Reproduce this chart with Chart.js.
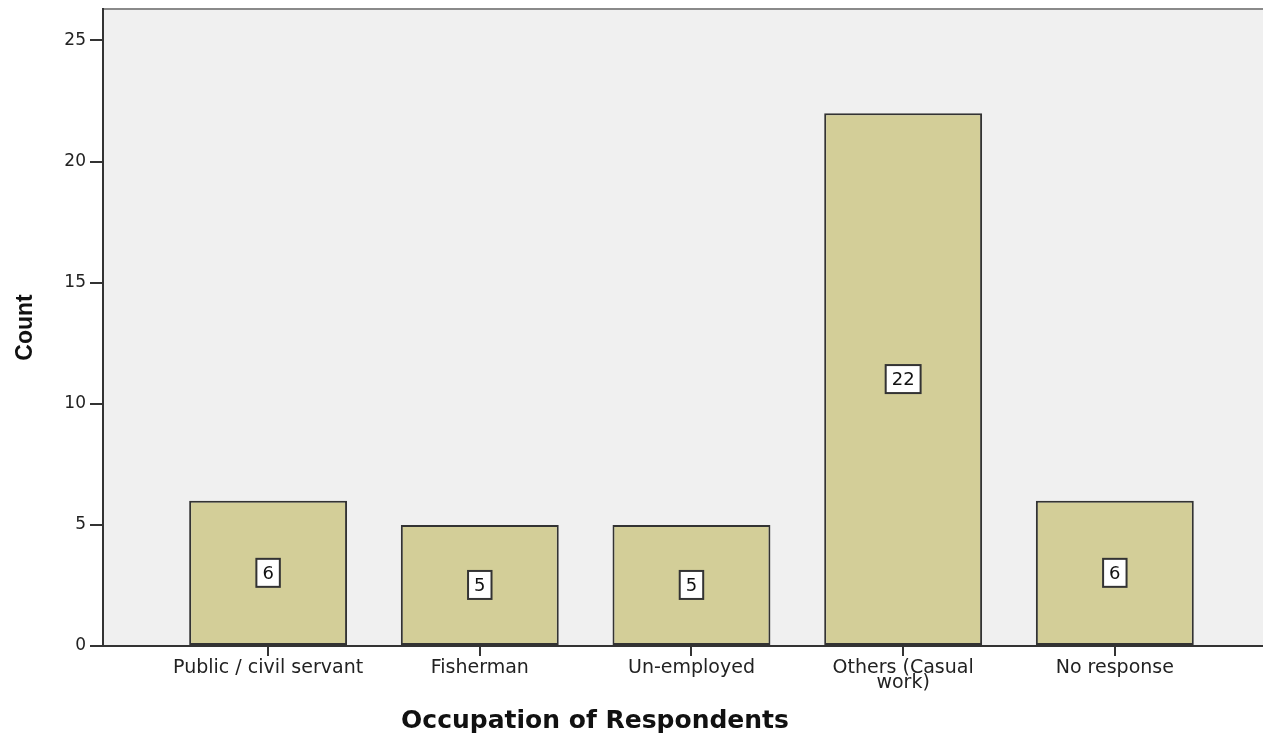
<!DOCTYPE html>
<html>
<head>
<meta charset="utf-8">
<script src="https://cdn.jsdelivr.net/npm/chart.js@4"></script>
<style>
  html, body { margin: 0; padding: 0; background: #fff; }
  #wrap { width: 1263px; height: 735px; position: relative; }
</style>
</head>
<body>
<div id="wrap"><canvas id="myChart"></canvas></div>
<script>
var categories = ["Public / civil servant", "Fisherman", "Un-employed", ["Others (Casual", "work)"], "No response"];
var counts = [6, 5, 5, 22, 6];
var yTicks = [0, 5, 10, 15, 20, 25];
var xTitle = "Occupation of Respondents";
var yTitle = "Count";

// grey plot background + top frame line
var plotFrame = {
  id: 'plotFrame',
  beforeDraw: function (chart) {
    var a = chart.chartArea, c = chart.ctx;
    c.save();
    c.fillStyle = '#f0f0f0';
    c.fillRect(a.left, a.top, a.right - a.left, a.bottom - a.top);
    c.strokeStyle = '#8a8a8a';
    c.lineWidth = 2;
    c.beginPath();
    c.moveTo(a.left, a.top);
    c.lineTo(a.right, a.top);
    c.stroke();
    c.restore();
  },
  afterDraw: function (chart) {
    var c = chart.ctx;
    c.save();
    c.font = 'bold 25px "DejaVu Sans"';
    c.fillStyle = '#111';
    c.textAlign = 'center';
    c.textBaseline = 'middle';
    c.fillText(xTitle, 595, 721);
    c.restore();
  }
};

// white count boxes in the middle of each bar
var countBoxes = {
  id: 'countBoxes',
  afterDatasetsDraw: function (chart) {
    var c = chart.ctx;
    c.save();
    c.font = '18px "DejaVu Sans"';
    c.textAlign = 'center';
    c.textBaseline = 'middle';
    chart.getDatasetMeta(0).data.forEach(function (bar, i) {
      var txt = String(counts[i]);
      var w = c.measureText(txt).width + 12, h = 28;
      var cy = (bar.y + bar.base) / 2;
      c.fillStyle = '#fff';
      c.fillRect(bar.x - w / 2, cy - h / 2, w, h);
      c.strokeStyle = '#333';
      c.lineWidth = 2;
      c.strokeRect(bar.x - w / 2, cy - h / 2, w, h);
      c.fillStyle = '#111';
      c.fillText(txt, bar.x, cy + 1);
    });
    c.restore();
  }
};

var ctx = document.getElementById("myChart");
var myChart = new Chart(ctx, {
  type: 'bar',
  data: {
    datasets: [{
      data: counts.map(function (v, i) { return { x: i + 1, y: v }; }),
      backgroundColor: '#d3ce98',
      borderColor: '#333',
      borderWidth: 2,
      borderSkipped: false,
      barPercentage: 0.746,
      categoryPercentage: 1
    }]
  },
  options: {
    responsive: true,
    maintainAspectRatio: false,
    animation: false,
    layout: { padding: { top: 9, right: 0, bottom: 0, left: 0 } },
    plugins: {
      legend: { display: false },
      tooltip: { enabled: false }
    },
    scales: {
      x: {
        type: 'linear',
        min: 0.22,
        max: 5.7,
        offset: false,
        afterBuildTicks: function (s) {
          s.ticks = categories.map(function (c, i) { return { value: i + 1 }; });
        },
        afterFit: function (s) { s.height = 89; },
        ticks: {
          autoSkip: false,
          maxRotation: 0,
          padding: 4,
          color: '#222',
          font: { family: '"DejaVu Sans"', size: 19, lineHeight: 0.8 },
          callback: function (v, i) { return categories[i]; }
        },
        grid: {
          offset: false,
          drawOnChartArea: false,
          drawTicks: true,
          tickLength: 10,
          tickColor: '#333',
          lineWidth: 2
        },
        border: { color: '#333', width: 2 }
      },
      y: {
        min: 0,
        max: 26.3,
        afterBuildTicks: function (s) {
          s.ticks = yTicks.map(function (v) { return { value: v }; });
        },
        afterFit: function (s) {
          s.width = 103;
          s.paddingTop = 0;
          s.paddingBottom = 0;
        },
        ticks: {
          padding: 4,
          color: '#222',
          font: { family: '"DejaVu Sans"', size: 17 }
        },
        grid: {
          drawOnChartArea: false,
          drawTicks: true,
          tickLength: 13,
          tickColor: '#333',
          lineWidth: 2
        },
        border: { color: '#333', width: 2 },
        title: {
          display: true,
          text: yTitle,
          color: '#111',
          padding: { top: 12, bottom: 0 },
          font: { family: '"Liberation Sans", Arial', size: 23, weight: 'bold' }
        }
      }
    }
  },
  plugins: [plotFrame, countBoxes]
});
</script>
</body>
</html>
